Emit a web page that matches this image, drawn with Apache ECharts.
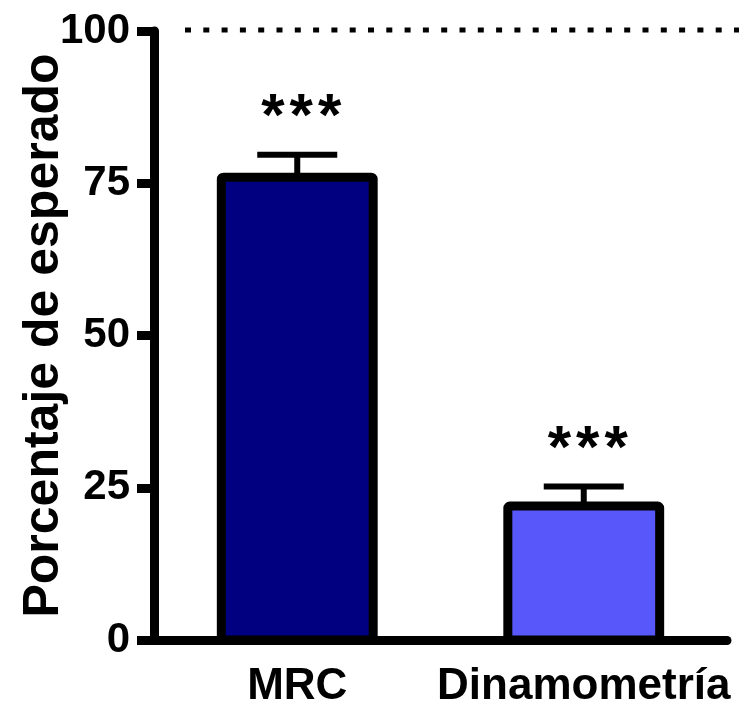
<!DOCTYPE html>
<html lang="es">
<head>
<meta charset="utf-8">
<title>Porcentaje de esperado</title>
<script src="https://cdn.jsdelivr.net/npm/echarts@6/dist/echarts.min.js"></script>
<style>
  html, body { margin: 0; padding: 0; background: #fff; }
  #chart { width: 743px; height: 713px; }
</style>
</head>
<body>
<div id="chart"></div>
<script>
// data
const categories = ['MRC', 'Dinamometría'];
const means = [76, 22];
const sem = [3.7, 3.2];
const stars = ['*\u200A*\u200A*', '*\u200A*\u200A*'];
const barColors = ['#000080', '#5757FA'];
const yMin = 0, yMax = 100, yStep = 25;
const expected = 100;

const FONT = 'Liberation Sans';

let chart = echarts.init(document.getElementById('chart'));

let barData = means.map(function (m, i) { return [i, m, sem[i], stars[i]]; });

let option = {
    animation: false,
    grid: { left: 154, right: 16, top: 31, bottom: 73, containLabel: false, outerBoundsMode: 'none' },
    xAxis: {
        type: 'category',
        data: categories,
        axisLine: { lineStyle: { color: '#000', width: 9 } },
        axisTick: { show: false },
        axisLabel: {
            interval: 0,
            color: '#000', fontFamily: FONT, fontWeight: 'bold', fontSize: 44,
            margin: 25
        }
    },
    yAxis: {
        type: 'value',
        min: yMin, max: yMax, interval: yStep,
        name: 'Porcentaje de esperado',
        nameLocation: 'middle',
        nameGap: 85,
        nameMoveOverlap: false,
        nameTextStyle: { color: '#000', fontFamily: FONT, fontWeight: 'bold', fontSize: 50 },
        splitLine: { show: false },
        axisLine: { show: true, lineStyle: { color: '#000', width: 9 } },
        axisTick: { show: true, length: 17, lineStyle: { color: '#000', width: 9 } },
        axisLabel: {
            color: '#000', fontFamily: FONT, fontWeight: 'bold', fontSize: 42,
            margin: 24
        }
    },
    series: [
        {
            // bars with border centred on the value, error bar (up only), stars
            type: 'custom',
            z: 3,
            data: barData,
            renderItem: function (params, api) {
                let i = api.value(0);
                let m = api.value(1);
                let e = api.value(2);
                let zero = api.coord([i, 0]);
                let base = api.coord([i, m]);
                let top = api.coord([i, m + e]);
                let w = api.size([1, 0])[0] * 0.53;
                let half = 40;
                return {
                    type: 'group',
                    children: [
                        { type: 'line', shape: { x1: base[0], y1: base[1], x2: top[0], y2: top[1] },
                          style: { stroke: '#000', lineWidth: 6 } },
                        { type: 'rect',
                          shape: { x: base[0] - w / 2, y: base[1], width: w, height: zero[1] - base[1], r: 2 },
                          style: { fill: barColors[i], stroke: '#000', lineWidth: 9 } },
                        { type: 'line', shape: { x1: top[0] - half, y1: top[1], x2: top[0] + half, y2: top[1] },
                          style: { stroke: '#000', lineWidth: 6 } },
                        { type: 'text', x: top[0] + 4, y: top[1] - 36,
                          style: { text: api.value(3), fill: '#000', font: 'bold 60px ' + FONT,
                                   align: 'center', verticalAlign: 'middle' } }
                    ]
                };
            }
        },
        {
            // dotted line at 100 %
            type: 'custom',
            z: 1,
            data: [[0, expected]],
            renderItem: function (params, api) {
                let y = api.coord([0, api.value(1)])[1];
                let cs = params.coordSys;
                return {
                    type: 'line',
                    shape: { x1: cs.x + 31, y1: y - 1, x2: cs.x + cs.width + 12, y2: y - 1 },
                    style: { stroke: '#000', lineWidth: 5, lineDash: [6, 12.3] }
                };
            }
        }
    ]
};

chart.setOption(option);
</script>
</body>
</html>
